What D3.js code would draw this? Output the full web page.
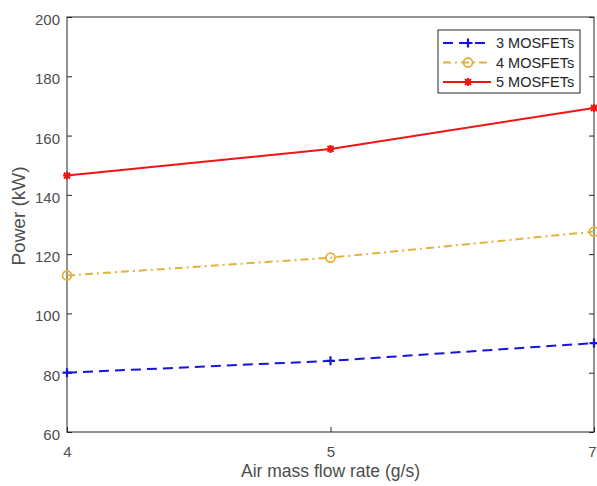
<!DOCTYPE html>
<html>
<head>
<meta charset="utf-8">
<script src="https://cdn.jsdelivr.net/npm/d3@7"></script>
<style>
  html, body { margin: 0; padding: 0; background: #fff; }
  svg { display: block; font-family: "Liberation Sans", Arial, Helvetica, sans-serif; }
</style>
</head>
<body>
<svg id="chart" width="597" height="486"></svg>
<script>
// Air mass flow rate categories (g/s)
const flowRates = ["4", "5", "7"];
// Power (kW) for each MOSFET count
const power3 = [80, 84, 90];
const power4 = [112.8, 118.8, 127.6];
const power5 = [146.5, 155.5, 169.3];
const seriesNames = ["3 MOSFETs", "4 MOSFETs", "5 MOSFETs"];
const yTicks = [60, 80, 100, 120, 140, 160, 180, 200];

const svg = d3.select("#chart");
const margin = { left: 67, right: 3, top: 17, bottom: 54 };
const W = 597, H = 486;
const x0 = margin.left, x1 = W - margin.right;
const y0 = H - margin.bottom, y1 = margin.top;

const x = d3.scalePoint().domain(flowRates).range([x0, x1]);
const y = d3.scaleLinear().domain([60, 200]).range([y0, y1]);

const axisColor = "#262626";
const labelColor = "#4d4d4d";

// Frame
svg.append("rect")
  .attr("x", x0).attr("y", y1)
  .attr("width", x1 - x0).attr("height", y0 - y1)
  .attr("fill", "none").attr("stroke", axisColor).attr("stroke-width", 1);

// Left axis with inward ticks
const yAxisL = svg.append("g").attr("transform", `translate(${x0},0)`)
  .call(d3.axisLeft(y).tickValues(yTicks).tickSize(-5).tickPadding(7));
yAxisL.select(".domain").remove();
yAxisL.selectAll("line").attr("stroke", axisColor);
yAxisL.selectAll("text").attr("fill", labelColor).attr("dy", "0.5em").style("font-size", "15px");

// Right-side mirrored ticks
const yAxisR = svg.append("g").attr("transform", `translate(${x1},0)`)
  .call(d3.axisRight(y).tickValues(yTicks).tickSize(-5).tickFormat(""));
yAxisR.select(".domain").remove();
yAxisR.selectAll("line").attr("stroke", axisColor);

// Bottom axis
const xAxis = svg.append("g").attr("transform", `translate(0,${y0})`)
  .call(d3.axisBottom(x).tickSize(-5).tickPadding(14));
xAxis.select(".domain").remove();
xAxis.selectAll("line").attr("stroke", axisColor);
xAxis.selectAll("text").attr("fill", labelColor).style("font-size", "15px")
  .attr("dx", (d, i, n) => i === n.length - 1 ? -2 : 0);

// Axis titles
svg.append("text")
  .attr("x", (x0 + x1) / 2).attr("y", 477)
  .attr("text-anchor", "middle")
  .attr("fill", labelColor).style("font-size", "17.5px")
  .text("Air mass flow rate (g/s)");
svg.append("text")
  .attr("transform", `translate(25,216) rotate(-90)`)
  .attr("text-anchor", "middle")
  .attr("fill", labelColor).style("font-size", "19px")
  .text("Power (kW)");

const series = [
  { name: seriesNames[0], values: power3, color: "#1515dc", dash: "10,6", marker: "plus" },
  { name: seriesNames[1], values: power4, color: "#e3b23c", dash: "8,4,2,4", marker: "circle" },
  { name: seriesNames[2], values: power5, color: "#f01414", dash: null, marker: "star" }
];

const line = d3.line().x((d, i) => x(flowRates[i])).y(d => y(d));

function drawMarker(g, type, color) {
  if (type === "plus") {
    g.append("path").attr("d", "M-4.5,0H4.5M0,-4.5V4.5")
      .attr("stroke", color).attr("stroke-width", 2.2).attr("fill", "none");
  } else if (type === "circle") {
    g.append("circle").attr("r", 4.5)
      .attr("stroke", color).attr("stroke-width", 1.8).attr("fill", "none");
  } else {
    g.append("path").attr("d", "M-4,0H4M0,-4V4M-3,-3L3,3M-3,3L3,-3")
      .attr("stroke", color).attr("stroke-width", 2).attr("fill", "none");
    g.append("circle").attr("r", 2.3).attr("fill", color);
  }
}

const plot = svg.append("g");
series.forEach(s => {
  plot.append("path")
    .datum(s.values)
    .attr("d", line)
    .attr("fill", "none")
    .attr("stroke", s.color)
    .attr("stroke-width", 2)
    .attr("stroke-dasharray", s.dash);
  s.values.forEach((v, i) => {
    const g = plot.append("g").attr("transform", `translate(${x(flowRates[i])},${y(v)})`);
    drawMarker(g, s.marker, s.color);
  });
});

// Legend
const lg = svg.append("g").attr("transform", "translate(438,30)");
lg.append("rect").attr("width", 142).attr("height", 63)
  .attr("fill", "#fff").attr("stroke", axisColor).attr("stroke-width", 1);
series.forEach((s, i) => {
  const cy = 13 + i * 19.5;
  lg.append("line").attr("x1", 5).attr("x2", 53).attr("y1", cy).attr("y2", cy)
    .attr("stroke", s.color).attr("stroke-width", 2).attr("stroke-dasharray", s.dash);
  const m = lg.append("g").attr("transform", `translate(30,${cy})`);
  drawMarker(m, s.marker, s.color);
  lg.append("text").attr("x", 58).attr("y", cy + 5)
    .attr("fill", "#262626").style("font-size", "14.5px")
    .text(s.name);
});
</script>
</body>
</html>
